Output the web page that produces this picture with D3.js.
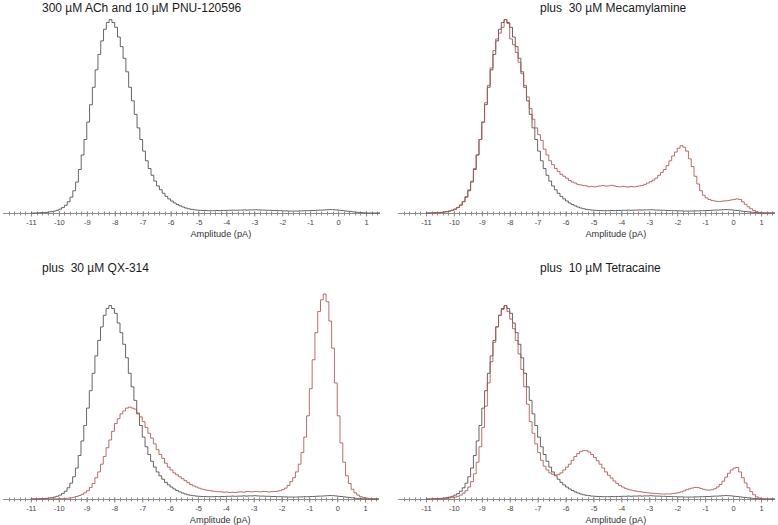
<!DOCTYPE html>
<html><head><meta charset="utf-8">
<script src="https://cdn.jsdelivr.net/npm/d3@7"></script>
<style>body{margin:0;background:#fff}svg{display:block;font-family:"Liberation Sans",Arial,sans-serif}</style>
</head><body><svg width="778" height="525"></svg>
<script>
// Histogram bins: left edge of first bin and bin width (pA)
const binStart = -11.0;
const binWidth = 0.1;

// Relative counts (control peak = 100)
const control = [
 0,0,0.1,0.2,0.2,0.3,0.5,0.7,1.0,1.4,
 2.0,2.8,4.0,5.8,8.2,11.5,16,22.5,30,38,
 47,56,65,74,82,89,95,98.5,100,98.5,
 96,91,86,80,73,65,58,51,44,38,
 32,27,23,19.5,16.5,14,12,10.2,8.6,7.3,
 6.2,5.2,4.4,3.7,3.1,2.6,2.2,1.9,1.7,1.5,
 1.4,1.3,1.3,1.2,1.2,1.2,1.3,1.2,1.3,1.3,
 1.4,1.4,1.5,1.4,1.5,1.5,1.6,1.5,1.6,1.6,
 1.7,1.6,1.5,1.5,1.4,1.4,1.3,1.3,1.2,1.2,
 1.1,1.1,1.0,1.0,1.0,1.0,1.1,1.1,1.2,1.2,
 1.3,1.3,1.4,1.5,1.5,1.6,1.7,1.8,1.7,1.6,
 1.4,1.3,1.1,0.9,0.8,0.6,0.4,0.3,0.2,0.1,
 0,0,0,0,0
];
const mecamylamine = [
 0,0,0.1,0.2,0.2,0.3,0.5,0.7,1.0,1.4,
 2.0,2.9,4.2,6.0,8.5,12,16.5,23,30,38,
 47,57,66,75,84,90,93,96,100,98,
 90,87,83,78,72,66,60,54,48.5,44,
 40.5,37.5,33,30,27,25,23,21.5,20,19,
 18,16.8,16,15.5,14.8,14.5,14.2,14,13.6,13.8,
 13.5,13.8,14,14.2,13.9,14,14.3,14,13.7,13.5,
 13.8,13.6,13.4,13.7,13.5,13.8,14,14.2,14.8,15.5,
 16.2,17,18,19.5,21,22.5,24.5,27,29.5,31.5,
 33.5,34.8,34,32,28,24,19,15,11.5,9.2,
 7.8,7.0,6.5,6.2,6.0,6.0,6.2,6.3,6.5,6.8,
 7.0,7.3,7.0,5.8,4.5,3.2,2.2,1.3,0.7,0.3,
 0.1,0,0,0,0
];
const qx314 = [
 0,0,0,0,0,0,0,0,0.1,0.1,
 0.2,0.2,0.3,0.4,0.6,0.9,1.3,1.8,2.4,3.2,
 4.3,6,8,11,14,18,22,26.5,30.5,35,
 39,41.5,44,45.5,47,47.5,47,46.5,44.5,42.5,
 40,37,34,31.5,28.5,25.5,23,21,18.5,16.5,
 15,13.5,12.5,11.5,10.5,9.5,8.5,7.5,6.8,6.2,
 5.6,5.1,4.8,4.5,4.3,4.0,3.9,3.8,3.7,3.5,
 3.6,3.4,3.5,3.4,3.6,3.7,3.5,3.9,3.8,3.7,
 3.9,3.8,3.7,3.9,3.8,3.6,3.8,3.9,4.0,4.3,
 4.8,5.6,7,9,11,14,18,24,32,43,
 57,72,86,97,103,106,102,92,78,60,
 43,29,19,12,8,5,3.2,2,1.2,0.8,
 0.5,0.3,0.2,0.1,0
];
const tetracaine = [
 0,0,0,0,0,0.1,0.2,0.3,0.5,0.7,
 1.0,1.4,2.0,3.0,4.3,6.2,9,13,19,27,
 37,48,60,71,81,89,95,98,100,97,
 93,88,82,75,67,58,49,40,34,28.5,
 24,20,17,15,13.5,12.8,12.4,12.6,13.5,15,
 16.5,18,20,22,23.5,24.5,25,25,24.3,23,
 21.5,19.8,18,16,14,12.3,10.8,9.3,8,7,
 6.2,5.5,5,4.6,4.3,4,3.8,3.6,3.4,3.2,
 3.0,2.9,2.8,2.7,2.6,2.6,2.6,2.6,2.8,3.0,
 3.3,3.7,4.2,4.8,5.3,5.7,6.0,5.9,5.5,5.0,
 4.7,4.6,4.8,5.3,6.2,7.5,9.2,11.3,13.3,15,
 16,16.3,14,11,8.3,5.8,3.8,2.2,1.1,0.5,
 0.2,0,0,0,0
];

const titles = [
 "300 \u00B5M ACh and 10 \u00B5M PNU-120596",
 "plus  30 \u00B5M Mecamylamine",
 "plus  30 \u00B5M QX-314",
 "plus  10 \u00B5M Tetracaine"
];
const tickLabels = [-11,-10,-9,-8,-7,-6,-5,-4,-3,-2,-1,0,1];
const xLabel = "Amplitude (pA)";
const xDomain = [-12, 1.5];
const yMax = 106;

const colors = {control: "#4a4a4a", drug: "#b5524f"};

const panels = [
 {title: titles[0], drug: null,          xr: [3, 380],   base: 213, top: 8,   tx: 42,  ty: 12},
 {title: titles[1], drug: mecamylamine,  xr: [398, 775], base: 213, top: 8,   tx: 540, ty: 12},
 {title: titles[2], drug: qx314,         xr: [3, 379],   base: 499, top: 294, tx: 42,  ty: 272},
 {title: titles[3], drug: tetracaine,    xr: [398, 775], base: 499, top: 294, tx: 540, ty: 272}
];

const svg = d3.select("svg");

function toPoints(vals) {
  const pts = vals.map((v, i) => [binStart + i * binWidth, v]);
  pts.push([binStart + vals.length * binWidth, 0]);
  return pts;
}

panels.forEach(p => {
  const g = svg.append("g");
  const x = d3.scaleLinear().domain(xDomain).range(p.xr);
  const y = d3.scaleLinear().domain([0, yMax]).range([p.base, p.top]);

  // axis line
  g.append("line").attr("x1", p.xr[0]).attr("x2", p.xr[1])
    .attr("y1", p.base + 0.5).attr("y2", p.base + 0.5)
    .attr("stroke", "#8c8c8c").attr("stroke-width", 1);
  // minor ticks
  const minor = d3.range(-59, 8).map(k => k * 0.2);
  g.selectAll(".mt").data(minor).join("line")
    .attr("x1", d => Math.round(x(d)) + 0.5).attr("x2", d => Math.round(x(d)) + 0.5)
    .attr("y1", p.base - 1.5).attr("y2", p.base + 2.5)
    .attr("stroke", "#8c8c8c").attr("stroke-width", 1);
  // major ticks + labels
  const ax = d3.axisBottom(x).tickValues(tickLabels).tickSize(3).tickPadding(3)
    .tickFormat(d => String(d));
  const axG = g.append("g").attr("transform", `translate(0,${p.base + 0.5})`).call(ax);
  axG.select(".domain").remove();
  axG.selectAll(".tick line").attr("stroke", "#8c8c8c").attr("y1", -2);
  axG.selectAll(".tick text").attr("fill", "#444").attr("font-size", 7.5)
    .attr("font-family", "Liberation Sans, Arial, sans-serif");

  // x label
  g.append("text").attr("x", x(-4.2)).attr("y", p.base + 23.5)
    .attr("text-anchor", "middle").attr("font-size", 9.2).attr("fill", "#333")
    .text(xLabel);

  // title
  g.append("text").attr("x", p.tx).attr("y", p.ty)
    .attr("font-size", 12).attr("fill", "#1a1a1a")
    .attr("xml:space", "preserve").style("white-space", "pre")
    .text(p.title);

  const line = d3.line().x(d => x(d[0])).y(d => y(d[1])).curve(d3.curveStepAfter);
  g.append("path").attr("d", line(toPoints(control)))
    .attr("fill", "none").attr("stroke", colors.control).attr("stroke-width", 0.85);
  if (p.drug) {
    g.append("path").attr("d", line(toPoints(p.drug)))
      .attr("fill", "none").attr("stroke", colors.drug).attr("stroke-width", 0.85);
  }
});
</script>
</body></html>
